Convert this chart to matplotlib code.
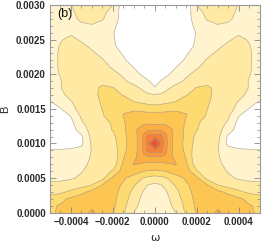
import matplotlib
matplotlib.use("Agg")
import matplotlib.pyplot as plt
import numpy as np

# omega >= 0 half of the grid (plot is mirror symmetric about omega = 0)
omega_half = [0, 0.00003, 0.00005, 0.0001, 0.00015, 0.0002, 0.00025,
              0.0003, 0.00035, 0.0004, 0.00045, 0.0005]
b_vals = np.linspace(0, 0.003, 31)

# contour level index, rows B = 0 ... 0.003
level_half = np.array([
    [1.35, 1.45, 1.55, 2.0, 3.15, 4.05, 4.6, 5.15, 4.7, 4.5, 4.2, 3.8],
    [1.4, 1.5, 1.6, 2.25, 3.3, 4.2, 4.6, 4.85, 4.7, 4.45, 4.1, 3.8],
    [1.45, 1.55, 1.65, 2.5, 3.45, 4.3, 4.65, 4.8, 4.6, 4.2, 3.7, 3.5],
    [1.6, 1.7, 1.85, 2.75, 3.6, 4.4, 4.6, 4.3, 3.7, 3.2, 2.8, 2.6],
    [1.8, 1.95, 2.25, 3.1, 3.85, 4.45, 4.05, 3.0, 2.6, 2.4, 2.25, 2.2],
    [2.6, 2.75, 2.9, 3.5, 4.15, 4.2, 2.7, 2.35, 2.15, 1.9, 1.8, 1.8],
    [3.85, 3.93, 4.0, 4.55, 4.5, 3.1, 2.45, 2.3, 1.95, 1.7, 1.65, 1.65],
    [4.72, 4.75, 4.8, 5.05, 4.15, 2.4, 2.2, 2.15, 1.8, 1.6, 1.6, 1.6],
    [5.85, 5.85, 5.8, 4.7, 3.95, 2.2, 2.25, 2.1, 1.6, 1.45, 1.45, 1.45],
    [7.5, 7.4, 6.3, 4.4, 3.85, 2.3, 2.15, 2.05, 1.3, 1.15, 1.1, 1.05],
    [11.0, 8.0, 6.4, 4.3, 3.85, 2.5, 2.3, 2.15, 0.8, 0.55, 0.45, 0.4],
    [7.5, 7.4, 6.3, 4.4, 3.85, 2.7, 2.35, 2.3, 0.85, 0.5, 0.45, 0.4],
    [5.75, 5.75, 5.7, 4.7, 3.78, 3.05, 2.6, 2.4, 1.45, 0.6, 0.45, 0.4],
    [4.75, 4.77, 4.8, 4.95, 3.8, 3.15, 2.6, 2.35, 1.9, 0.7, 0.5, 0.45],
    [4.3, 4.3, 4.3, 4.25, 4.02, 3.55, 2.9, 2.45, 2.15, 1.05, 0.6, 0.5],
    [3.7, 3.72, 3.75, 3.88, 3.95, 3.5, 3.02, 2.6, 2.3, 1.75, 0.95, 0.6],
    [2.45, 2.6, 2.75, 3.02, 3.3, 3.35, 3.1, 2.7, 2.35, 1.95, 1.5, 0.9],
    [2.05, 2.15, 2.25, 2.6, 2.97, 3.2, 3.15, 2.8, 2.55, 2.25, 1.8, 1.55],
    [1.05, 1.4, 1.75, 2.3, 2.55, 3.05, 3.1, 2.85, 2.75, 2.55, 1.95, 1.65],
    [0.75, 1.05, 1.25, 1.7, 2.15, 2.6, 2.85, 2.8, 2.75, 2.6, 1.95, 1.65],
    [0.45, 0.6, 0.8, 1.3, 1.85, 2.25, 2.5, 2.65, 2.7, 2.6, 2.05, 1.7],
    [0.35, 0.4, 0.5, 0.98, 1.5, 1.9, 2.3, 2.5, 2.6, 2.5, 2.1, 1.7],
    [0.3, 0.3, 0.35, 0.6, 1.15, 1.75, 2.05, 2.3, 2.45, 2.45, 2.1, 1.7],
    [0.3, 0.3, 0.3, 0.4, 0.9, 1.45, 1.85, 2.1, 2.3, 2.4, 2.1, 1.7],
    [0.3, 0.3, 0.3, 0.3, 0.45, 1.25, 1.65, 1.9, 2.15, 2.3, 2.05, 1.7],
    [0.3, 0.3, 0.3, 0.3, 0.55, 1.1, 1.45, 1.7, 1.92, 2.15, 1.95, 1.6],
    [0.3, 0.3, 0.3, 0.3, 0.55, 1.05, 1.5, 1.7, 1.75, 1.9, 1.8, 1.6],
    [0.3, 0.3, 0.3, 0.3, 0.5, 1.25, 1.8, 1.95, 1.9, 1.8, 1.7, 1.6],
    [0.3, 0.3, 0.3, 0.3, 0.45, 1.6, 2.05, 2.2, 2.1, 1.85, 1.7, 1.6],
    [0.3, 0.3, 0.3, 0.3, 0.45, 1.67, 2.25, 2.35, 2.2, 1.9, 1.7, 1.6],
    [0.3, 0.3, 0.3, 0.3, 0.4, 2.0, 2.3, 2.4, 2.3, 1.98, 1.7, 1.6],
])

bounds = [-1, 1, 2, 3, 4, 5, 6, 7, 8, 9, 12]
fill_colors = ["#ffffff", "#fff4cd", "#ffe9a3", "#fedb70", "#fdc552",
               "#fbaf42", "#f9983a", "#f78134", "#f5682c", "#f25124"]

x_ticks = [-0.0004, -0.0002, 0.0, 0.0002, 0.0004]
x_labels = ["\u22120.0004", "\u22120.0002", "0.0000", "0.0002", "0.0004"]
y_ticks = [0.0, 0.0005, 0.0010, 0.0015, 0.0020, 0.0025, 0.0030]
y_labels = ["0.0000", "0.0005", "0.0010", "0.0015", "0.0020", "0.0025", "0.0030"]

omega_half = np.array(omega_half)
omega = np.concatenate([-omega_half[:0:-1], omega_half])
level = np.hstack([level_half[:, :0:-1], level_half])

fig = plt.figure(figsize=(2.62, 2.45), dpi=100)
ax = fig.add_axes([50 / 262, 32.3 / 245, 209.5 / 262, 207.7 / 245])

ax.contourf(omega, b_vals, level, levels=bounds, colors=fill_colors)
ax.contour(omega, b_vals, level, levels=bounds[1:-1], colors="#9a9a9a",
           linewidths=0.5, alpha=0.7)

ax.set_xlim(-0.0005, 0.0005)
ax.set_ylim(0, 0.003)

ax.set_xticks(x_ticks)
ax.set_xticklabels(x_labels)
ax.set_yticks(y_ticks)
ax.set_yticklabels(y_labels)
ax.set_xticks(np.arange(-0.0005, 0.00051, 0.00005), minor=True)
ax.set_yticks(np.arange(0, 0.00301, 0.0001), minor=True)
ax.tick_params(which="both", direction="in", top=True, right=True,
               color="#888888", labelsize=7, labelcolor="#2a2a2a", pad=3)
ax.tick_params(which="major", length=4, width=0.6)
ax.tick_params(which="minor", length=2, width=0.5)
for lab in ax.get_xticklabels() + ax.get_yticklabels():
    lab.set_fontfamily("Liberation Sans")
    lab.set_fontweight("bold")
for sp in ax.spines.values():
    sp.set_color("#999999")
    sp.set_linewidth(0.8)

ax.set_xlabel("\u03c9", fontsize=8, color="#2a2a2a")
ax.set_ylabel("B", fontsize=8, color="#2a2a2a", family="Liberation Sans")
ax.xaxis.set_label_coords(0.5, -0.098)
ax.yaxis.set_label_coords(-0.19, 0.5)
ax.text(0.035, 0.985, "(b)", transform=ax.transAxes, fontsize=9,
        family="Liberation Sans", va="top", ha="left", color="#111111")

fig.savefig("out.png", dpi=100)
